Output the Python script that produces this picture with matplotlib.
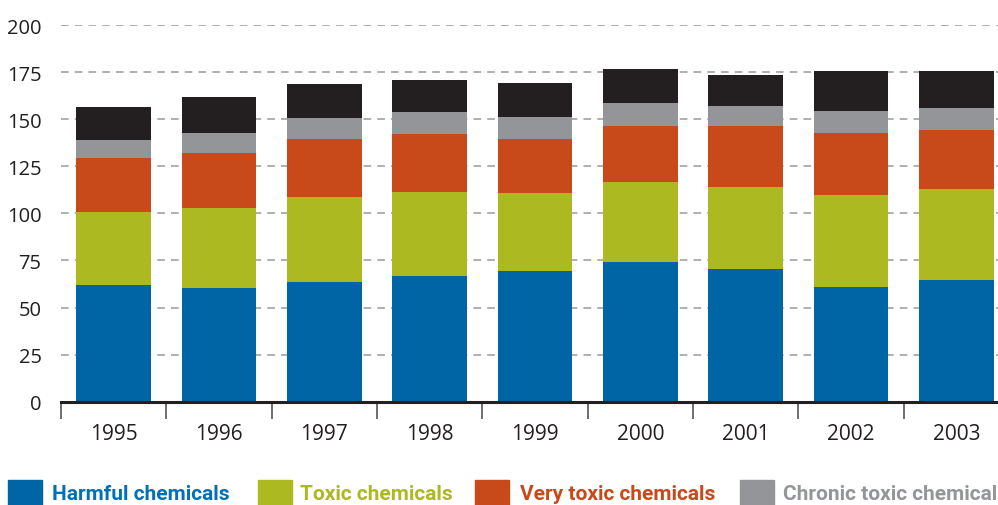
import numpy as np
import matplotlib.pyplot as plt
from matplotlib.patches import Rectangle

# data
years = ['1995', '1996', '1997', '1998', '1999', '2000', '2001', '2002', '2003']
harmful = [62.1, 60.4, 63.5, 66.9, 69.4, 74.2, 70.4, 60.9, 64.6]
toxic = [38.6, 42.4, 45.2, 44.4, 41.4, 42.4, 43.6, 48.8, 48.3]
very_toxic = [28.7, 29.2, 30.8, 30.8, 28.7, 29.8, 32.4, 33.0, 31.3]
chronic = [9.5, 10.7, 11.1, 11.7, 11.7, 12.2, 10.6, 11.6, 11.7]
other = [17.6, 19.1, 18.1, 17.0, 18.0, 18.0, 16.5, 21.3, 19.7]

series = [harmful, toxic, very_toxic, chronic, other]
colors = ['#0065a4', '#adb920', '#c8491a', '#939598', '#231f20']
labels = ['Harmful chemicals', 'Toxic chemicals', 'Very toxic chemicals',
          'Chronic toxic chemicals']
text_colors = ['#0070b8', '#adb920', '#c8491a', '#939598']

plt.rcParams['font.family'] = ['Open Sans', 'DejaVu Sans']

fig = plt.figure(figsize=(9.98, 5.06), dpi=100)
ax = fig.add_axes([0.0611, 0.204, 0.950, 0.7446])

x = np.arange(len(years))
bottom = np.zeros(len(years))
for vals, c in zip(series, colors):
    ax.bar(x, vals, width=0.71, bottom=bottom, color=c, zorder=2)
    bottom += np.array(vals)

ax.set_xlim(-0.5, len(years) - 0.5)
ax.set_ylim(0, 200)
ax.set_yticks(range(0, 201, 25))
ax.yaxis.grid(True, linestyle=(0, (5, 4)), color='#9a9a9a', linewidth=1.1, zorder=0)
ax.set_axisbelow(True)

for s in ['top', 'right', 'left']:
    ax.spines[s].set_visible(False)
ax.spines['bottom'].set_linewidth(2.2)
ax.spines['bottom'].set_color('#231f20')

ax.set_xticks(x)
ax.set_xticklabels(years)
ax.set_xticks(np.arange(-0.5, len(years)), minor=True)
ax.tick_params(axis='x', which='major', length=0, labelsize=15, colors='#231f20', pad=15)
ax.tick_params(axis='x', which='minor', length=12, width=1.2, color='#555555')
ax.tick_params(axis='y', length=0, labelsize=14.5, colors='#231f20', pad=14)

# legend along the bottom
sq_x = [8, 258, 475, 740]
txt_x = [52, 300, 520, 783]
W, H = 998.0, 506.0
for i in range(4):
    fig.patches.append(Rectangle((sq_x[i] / W, 0), 34 / W, 25 / H,
                                 transform=fig.transFigure, color=colors[i]))
    fig.text(txt_x[i] / W, (H - 495) / H, labels[i], color=text_colors[i],
             fontsize=15, fontweight='bold', va='center', ha='left',
             family=['Roboto', 'DejaVu Sans'])

fig.savefig('out.png', dpi=100)
